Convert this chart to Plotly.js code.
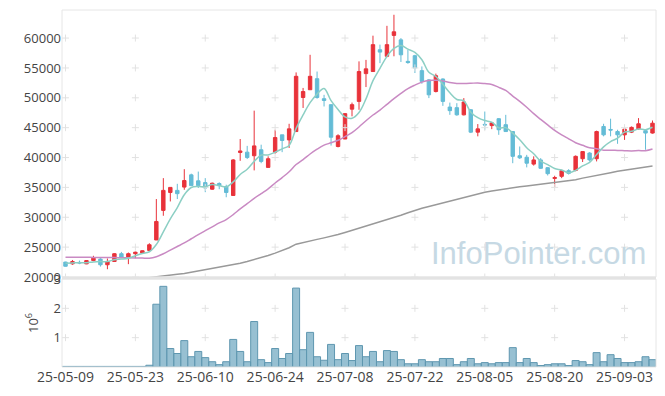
<!DOCTYPE html>
<html>
<head>
<meta charset="utf-8">
<script src="https://cdn.plot.ly/plotly-3.0.1.min.js"></script>
<style>html,body{margin:0;padding:0;background:#fff;}#chart{width:665px;height:396px;}</style>
</head>
<body>
<div id="chart"></div>
<script>
const dates = ["25-05-09","25-05-12","25-05-13","25-05-14","25-05-15","25-05-16","25-05-19","25-05-20","25-05-21","25-05-22",
"25-05-23","25-05-26","25-05-27","25-05-28","25-05-29","25-05-30","25-06-02","25-06-04","25-06-05","25-06-09",
"25-06-10","25-06-11","25-06-12","25-06-13","25-06-16","25-06-17","25-06-18","25-06-19","25-06-20","25-06-23",
"25-06-24","25-06-25","25-06-26","25-06-27","25-06-30","25-07-01","25-07-02","25-07-03","25-07-04","25-07-07",
"25-07-08","25-07-09","25-07-10","25-07-11","25-07-14","25-07-15","25-07-16","25-07-17","25-07-18","25-07-21",
"25-07-22","25-07-23","25-07-24","25-07-25","25-07-28","25-07-29","25-07-30","25-07-31","25-08-01","25-08-04",
"25-08-05","25-08-06","25-08-07","25-08-08","25-08-11","25-08-12","25-08-13","25-08-14","25-08-18","25-08-19",
"25-08-20","25-08-21","25-08-22","25-08-25","25-08-26","25-08-27","25-08-28","25-08-29","25-09-01","25-09-02",
"25-09-03","25-09-04","25-09-05","25-09-08","25-09-09"];

const openP = [22500,22200,22450,22200,22750,23000,22050,22600,23900,23300,
23900,24000,24450,26200,31150,34150,34500,35050,37100,36100,
35800,34700,35650,35150,33650,40850,40900,40300,41300,38350,
40900,43800,42950,44350,50050,51350,53200,49850,48850,41850,
43100,48100,49400,54050,54400,58050,56950,60450,59700,56100,
57050,54550,53000,51050,53150,48450,48350,47150,48000,44250,
45550,45350,46500,45500,44350,40300,40050,38900,39600,38300,
36500,36850,37800,37850,39800,40750,39800,45200,44700,44350,
43800,44250,44800,44500,44100];
const highP = [22550,22850,22750,22800,23550,23150,23100,24000,24200,24100,
24250,24450,25650,33050,36550,35000,35600,38050,37300,37650,
36550,35800,35850,35450,39750,43100,41950,47850,42150,40200,
44650,43800,45650,54250,51650,57200,54400,50500,48850,43900,
47450,49200,56100,56350,60400,58900,62050,63900,60000,58050,
57200,55250,53150,54050,53250,49200,49100,49950,48100,45600,
47700,45950,46600,47150,44350,41850,40450,40200,39900,38400,
36950,37950,38050,40350,41000,40900,44500,45650,46500,44650,
45100,45200,46600,44650,46200];
const lowP = [21750,22050,22150,22150,22650,21750,21300,22550,23250,22150,
23150,23950,24350,26200,30250,32650,33050,34600,35300,34900,
34200,34600,34700,33350,33650,39450,39750,37850,39050,38350,
40650,40900,41600,44350,48300,51350,49850,48550,42000,41700,
43100,46900,48000,51800,54400,55800,56800,56950,56000,55700,
54150,52350,49950,50900,48650,47150,47000,47050,44100,43550,
44650,44750,43800,44350,39050,39750,38350,38650,38100,37000,
35050,36550,37150,37700,39250,39350,39350,43550,43550,42300,
42950,44100,44650,41300,44000];
const closeP = [21800,22600,22350,22750,23150,22050,22600,23900,23300,23900,
24150,24400,25400,29300,34500,35000,33950,36150,35300,35300,
34900,35700,35300,34150,39600,41100,40000,41950,39350,39800,
43350,42850,44800,53600,51050,53600,50050,49550,43400,43650,
47350,48850,54400,54850,58900,57650,58900,61050,57200,55900,
55000,52750,50500,53700,49400,47850,47150,49300,44250,44800,
45450,45800,44650,44350,40200,39950,39050,39600,38200,37300,
36650,37800,37350,40200,41000,39600,44350,43800,44600,43800,
44750,45050,45650,44100,45750];

// moving averages
const ma5 = [22300,22350,22400,22400,22530,22580,22580,22890,23000,23150,
23570,23930,24230,25430,27550,29720,31630,33780,34980,35140,
35120,35470,35300,35070,35930,37170,38030,39360,40400,40440,
40890,41460,42030,44880,47130,49180,50620,51570,49530,48050,
46800,46560,47530,49820,52870,54930,56940,58270,58740,58140,
57610,56380,54270,53570,52270,50840,49720,49480,47590,46670,
46190,45920,44990,45010,44090,42990,41640,40630,39400,38820,
38160,37910,37460,37860,38600,39190,40500,41790,42670,43230,
44260,44400,44770,44670,45060];
const ma20 = [23300,23300,23300,23300,23280,23270,23250,23250,23230,23220,
23200,23170,23150,23400,23900,24500,25100,25700,26400,27090,
27750,28400,29050,29620,30440,31400,32270,33170,33970,34770,
35730,36650,37620,38830,39660,40590,41400,42070,42470,42890,
43510,44170,45120,46160,47120,47950,48900,49850,50740,51550,
52130,52630,52910,52920,52830,52550,52400,52390,52430,52490,
52390,52240,51750,51230,50290,49410,48420,47340,46390,45460,
44550,43800,43140,42470,42050,41630,41490,41220,41240,41190,
41150,41110,41160,41150,41430];
const ma60 = [null,null,null,null,null,null,null,null,null,null,
null,19750,19870,20000,20150,20300,20450,20600,20800,21000,
21300,21500,21700,21900,22050,22300,22600,22900,23250,23600,
24000,24400,24900,25500,25800,26050,26300,26550,26800,27100,
27450,27800,28150,28550,28950,29300,29650,30000,30350,30750,
31150,31500,31800,32100,32450,32750,33050,33350,33650,33950,
34200,34400,34600,34800,34950,35100,35250,35400,35550,35700,
35850,35950,36100,36300,36550,36750,36950,37200,37450,37700,
37900,38100,38300,38450,38600];

// volume in millions of shares
const volumeM = [0.02,0.02,0.02,0.02,0.02,0.02,0.02,0.02,0.02,0.02,
0.02,0.02,0.06,2.14,2.75,0.63,0.46,0.90,0.35,0.53,
0.32,0.18,0.08,0.18,0.94,0.53,0.18,1.55,0.25,0.15,
0.63,0.29,0.46,2.69,0.59,1.18,0.35,0.23,0.77,0.25,
0.46,0.22,0.73,0.35,0.53,0.18,0.56,0.53,0.25,0.11,
0.11,0.25,0.18,0.18,0.29,0.29,0.08,0.18,0.29,0.11,
0.15,0.11,0.15,0.15,0.66,0.15,0.29,0.15,0.05,0.08,
0.11,0.11,0.05,0.22,0.18,0.08,0.49,0.18,0.42,0.29,
0.15,0.15,0.18,0.35,0.25];

const priceTicks = [20000,25000,30000,35000,40000,45000,50000,55000,60000];
const volTicks = [1,2,3];
const xTickVals = dates.filter((d,i)=>i%10===0);

// grid crosses at tick intersections
const cx=[],cy=[],vx=[],vy=[];
xTickVals.forEach(d=>{priceTicks.forEach(p=>{cx.push(d);cy.push(p);}); [1,2].forEach(v=>{vx.push(d);vy.push(v);});});

const font = "Open Sans, Liberation Sans, sans-serif";
const crossMarker = {symbol:'cross-thin',size:5,line:{color:'#e2e2e2',width:1}};
const traces = [
 {type:'scatter',mode:'markers',x:cx,y:cy,xaxis:'x',yaxis:'y',hoverinfo:'skip',marker:crossMarker},
 {type:'scatter',mode:'markers',x:vx,y:vy,xaxis:'x',yaxis:'y2',hoverinfo:'skip',marker:crossMarker},
 {type:'candlestick',x:dates,open:openP,high:highP,low:lowP,close:closeP,xaxis:'x',yaxis:'y',
  increasing:{line:{color:'#e8323a',width:1},fillcolor:'#e8323a'},
  decreasing:{line:{color:'#64bcd6',width:1},fillcolor:'#64bcd6'},whiskerwidth:0},
 {type:'scatter',mode:'lines',x:dates,y:ma60,xaxis:'x',yaxis:'y',line:{color:'#999999',width:1.5}},
 {type:'scatter',mode:'lines',x:dates,y:ma20,xaxis:'x',yaxis:'y',line:{color:'#c98ac3',width:1.5,shape:'spline'}},
 {type:'scatter',mode:'lines',x:dates,y:ma5,xaxis:'x',yaxis:'y',line:{color:'#8ccfc4',width:1.5,shape:'spline'}},
 {type:'bar',x:dates,y:volumeM,xaxis:'x',yaxis:'y2',
  marker:{color:'rgba(125,176,199,0.8)',line:{color:'#5f97b0',width:1}}}
];

const volTop = 88/357, priceBot = 90/357;
const layout = {
 width:665,height:396,margin:{l:62,r:9,t:10,b:29},
 paper_bgcolor:'#fff',plot_bgcolor:'#fff',showlegend:false,bargap:0,
 font:{family:font,color:'#444',size:13},
 xaxis:{type:'category',categoryorder:'array',categoryarray:dates,range:[-0.5,84.5],anchor:'y2',tickmode:'array',tickvals:xTickVals,ticktext:xTickVals,
  showgrid:false,zeroline:false,showline:false,ticks:'',rangeslider:{visible:false},tickfont:{size:14,color:'#444'},fixedrange:true},
 yaxis:{domain:[priceBot,1],range:[20000,64700],tickmode:'array',tickvals:priceTicks,ticktext:priceTicks.map(String),showgrid:false,zeroline:false,
  ticks:'',tickfont:{size:13,color:'#444'},anchor:'x'},
 yaxis2:{domain:[0,volTop],range:[0,3],tickmode:'array',tickvals:volTicks,ticktext:volTicks.map(String),showgrid:false,zeroline:false,ticks:'',
  tickfont:{size:13,color:'#444'},title:{text:'10<sup>6</sup>',font:{size:13,color:'#444'},standoff:12},anchor:'x'},
 shapes:[
  {type:'rect',xref:'paper',yref:'paper',x0:0,x1:1,y0:priceBot,y1:1,line:{color:'#e6e6e6',width:1}},
  {type:'rect',xref:'paper',yref:'paper',x0:0,x1:1,y0:0,y1:volTop,line:{color:'#e6e6e6',width:1}},
  {type:'line',xref:'paper',yref:'paper',x0:0,x1:1,y0:(volTop+priceBot)/2,y1:(volTop+priceBot)/2,line:{color:'#e3e3e3',width:3}}
 ],
 annotations:[{text:'InfoPointer.com',xref:'paper',yref:'paper',x:0.986,y:0.318,xanchor:'right',yanchor:'middle',
  showarrow:false,font:{family:'Liberation Sans, Arial, sans-serif',size:31,color:'#c6d9e4'}}]
};
Plotly.newPlot('chart',traces,layout,{displayModeBar:false,staticPlot:true});
</script>
</body>
</html>
